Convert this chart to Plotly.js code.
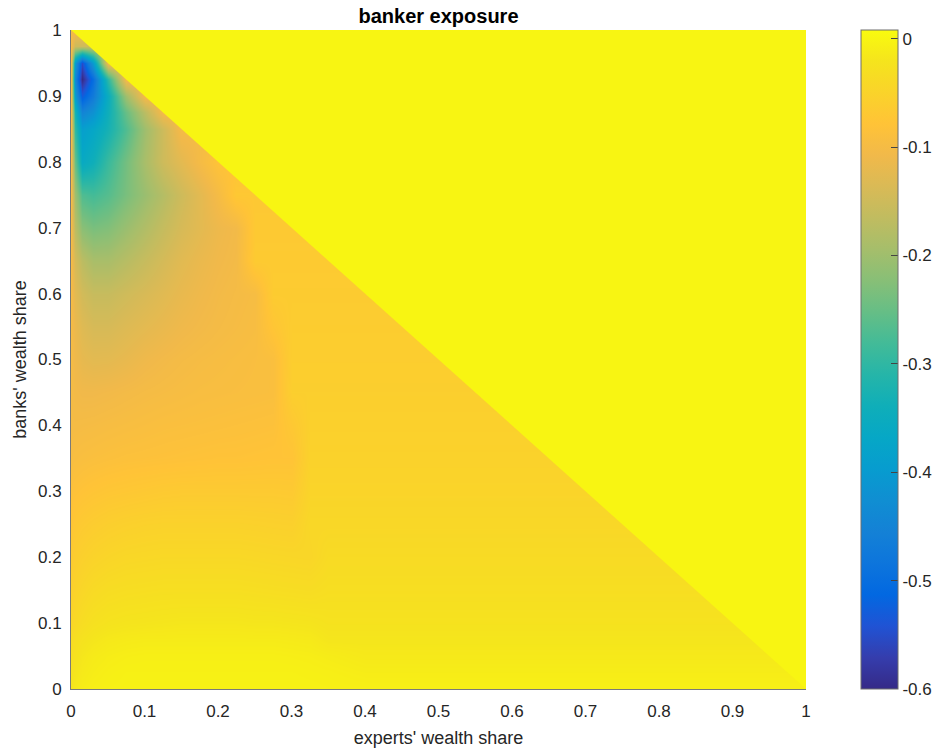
<!DOCTYPE html>
<html>
<head>
<meta charset="utf-8">
<script src="https://cdn.plot.ly/plotly-3.0.1.min.js"></script>
<style>
html,body{margin:0;padding:0;background:#ffffff;}
#chart{width:941px;height:752px;}
</style>
</head>
<body>
<div id="chart"></div>
<script>
// experts' wealth share (x) sample points
const expertShare = [0, 0.005, 0.015, 0.03, 0.05, 0.075, 0.1, 0.125, 0.15, 0.175, 0.2, 0.225, 0.25, 0.275, 0.3, 0.325, 0.35, 0.4, 0.5, 0.6, 0.7, 0.8, 0.9, 1];
// banks' wealth share (y) sample points
const bankShare = [0, 0.025, 0.05, 0.075, 0.1, 0.15, 0.2, 0.25, 0.3, 0.35, 0.4, 0.45, 0.5, 0.55, 0.6, 0.65, 0.7, 0.75, 0.8, 0.85, 0.875, 0.9, 0.925, 0.95, 0.975, 1];

// banker exposure, one row per banks' wealth share (0 = infeasible region, experts + banks > 1)
const exposure_y0000 = [-0.02, -0.015, -0.01, -0.007, -0.005, -0.004, -0.004, -0.004, -0.004, -0.004, -0.004, -0.004, -0.004, -0.004, -0.004, -0.004, -0.005, -0.006, -0.006, -0.006, -0.006, -0.006, -0.006, -0.006];
const exposure_y0025 = [-0.025, -0.02, -0.014, -0.01, -0.007, -0.005, -0.005, -0.005, -0.005, -0.005, -0.005, -0.005, -0.005, -0.005, -0.005, -0.006, -0.007, -0.01, -0.01, -0.01, -0.01, -0.01, -0.01, 0];
const exposure_y0050 = [-0.03, -0.025, -0.018, -0.013, -0.01, -0.008, -0.007, -0.007, -0.007, -0.007, -0.007, -0.007, -0.007, -0.007, -0.008, -0.009, -0.011, -0.015, -0.015, -0.015, -0.015, -0.015, -0.015, 0];
const exposure_y0075 = [-0.035, -0.03, -0.024, -0.019, -0.015, -0.013, -0.012, -0.012, -0.012, -0.012, -0.012, -0.012, -0.012, -0.012, -0.013, -0.014, -0.019, -0.019, -0.019, -0.019, -0.019, -0.019, -0.019, 0];
const exposure_y0100 = [-0.045, -0.04, -0.033, -0.027, -0.023, -0.021, -0.02, -0.019, -0.018, -0.018, -0.018, -0.018, -0.019, -0.019, -0.02, -0.021, -0.024, -0.024, -0.024, -0.024, -0.024, -0.024, -0.024, 0];
const exposure_y0150 = [-0.055, -0.05, -0.044, -0.038, -0.034, -0.032, -0.031, -0.03, -0.03, -0.03, -0.03, -0.03, -0.031, -0.032, -0.033, -0.034, -0.031, -0.031, -0.031, -0.031, -0.031, -0.031, 0, 0];
const exposure_y0200 = [-0.065, -0.06, -0.055, -0.05, -0.046, -0.043, -0.042, -0.041, -0.041, -0.041, -0.041, -0.041, -0.042, -0.043, -0.044, -0.045, -0.037, -0.037, -0.037, -0.037, -0.037, -0.037, 0, 0];
const exposure_y0250 = [-0.075, -0.07, -0.066, -0.062, -0.058, -0.055, -0.053, -0.052, -0.052, -0.052, -0.052, -0.052, -0.053, -0.054, -0.055, -0.043, -0.043, -0.043, -0.043, -0.043, -0.043, 0, 0, 0];
const exposure_y0300 = [-0.085, -0.082, -0.079, -0.076, -0.073, -0.071, -0.069, -0.067, -0.066, -0.066, -0.066, -0.066, -0.066, -0.066, -0.067, -0.048, -0.048, -0.048, -0.048, -0.048, -0.048, 0, 0, 0];
const exposure_y0350 = [-0.095, -0.093, -0.091, -0.089, -0.087, -0.085, -0.084, -0.083, -0.082, -0.081, -0.08, -0.08, -0.079, -0.078, -0.078, -0.052, -0.052, -0.052, -0.052, -0.052, 0, 0, 0, 0];
const exposure_y0400 = [-0.1, -0.1, -0.099, -0.098, -0.096, -0.094, -0.092, -0.09, -0.089, -0.088, -0.087, -0.086, -0.085, -0.084, -0.07, -0.055, -0.055, -0.055, -0.055, -0.055, 0, 0, 0, 0];
const exposure_y0450 = [-0.1, -0.105, -0.108, -0.108, -0.106, -0.103, -0.1, -0.098, -0.096, -0.094, -0.093, -0.092, -0.091, -0.09, -0.058, -0.058, -0.058, -0.058, -0.058, 0, 0, 0, 0, 0];
const exposure_y0500 = [-0.1, -0.11, -0.12, -0.125, -0.124, -0.118, -0.11, -0.105, -0.101, -0.098, -0.096, -0.094, -0.092, -0.09, -0.06, -0.06, -0.06, -0.06, -0.06, 0, 0, 0, 0, 0];
const exposure_y0550 = [-0.1, -0.115, -0.13, -0.14, -0.14, -0.132, -0.124, -0.117, -0.11, -0.105, -0.101, -0.098, -0.095, -0.075, -0.062, -0.062, -0.062, -0.062, 0, 0, 0, 0, 0, 0];
const exposure_y0600 = [-0.1, -0.125, -0.145, -0.158, -0.158, -0.148, -0.138, -0.128, -0.118, -0.11, -0.104, -0.1, -0.097, -0.064, -0.064, -0.064, -0.064, -0.064, 0, 0, 0, 0, 0, 0];
const exposure_y0650 = [-0.1, -0.14, -0.17, -0.19, -0.19, -0.175, -0.158, -0.142, -0.127, -0.116, -0.108, -0.103, -0.066, -0.066, -0.066, -0.066, -0.066, 0, 0, 0, 0, 0, 0, 0];
const exposure_y0700 = [-0.1, -0.17, -0.22, -0.235, -0.228, -0.205, -0.182, -0.16, -0.14, -0.125, -0.112, -0.105, -0.068, -0.068, -0.068, 0, 0, 0, 0, 0, 0, 0, 0, 0];
const exposure_y0750 = [-0.1, -0.2, -0.27, -0.28, -0.265, -0.235, -0.205, -0.178, -0.15, -0.125, -0.1, -0.07, -0.07, 0, 0, 0, 0, 0, 0, 0, 0, 0, 0, 0];
const exposure_y0800 = [-0.1, -0.25, -0.36, -0.34, -0.29, -0.24, -0.19, -0.15, -0.125, -0.1, -0.08, 0, 0, 0, 0, 0, 0, 0, 0, 0, 0, 0, 0, 0];
const exposure_y0850 = [-0.1, -0.3, -0.39, -0.37, -0.33, -0.27, -0.2, -0.15, -0.1, 0, 0, 0, 0, 0, 0, 0, 0, 0, 0, 0, 0, 0, 0, 0];
const exposure_y0875 = [-0.1, -0.33, -0.45, -0.42, -0.34, -0.25, -0.17, -0.1, 0, 0, 0, 0, 0, 0, 0, 0, 0, 0, 0, 0, 0, 0, 0, 0];
const exposure_y0900 = [-0.1, -0.4, -0.53, -0.47, -0.35, -0.2, -0.1, 0, 0, 0, 0, 0, 0, 0, 0, 0, 0, 0, 0, 0, 0, 0, 0, 0];
const exposure_y0925 = [-0.1, -0.44, -0.6, -0.5, -0.3, -0.1, 0, 0, 0, 0, 0, 0, 0, 0, 0, 0, 0, 0, 0, 0, 0, 0, 0, 0];
const exposure_y0950 = [-0.1, -0.4, -0.55, -0.4, -0.1, 0, 0, 0, 0, 0, 0, 0, 0, 0, 0, 0, 0, 0, 0, 0, 0, 0, 0, 0];
const exposure_y0975 = [-0.1, -0.15, -0.15, 0, 0, 0, 0, 0, 0, 0, 0, 0, 0, 0, 0, 0, 0, 0, 0, 0, 0, 0, 0, 0];
const exposure_y1000 = [-0.1, 0, 0, 0, 0, 0, 0, 0, 0, 0, 0, 0, 0, 0, 0, 0, 0, 0, 0, 0, 0, 0, 0, 0];

const exposureRows = [exposure_y0000, exposure_y0025, exposure_y0050, exposure_y0075, exposure_y0100,
  exposure_y0150, exposure_y0200, exposure_y0250, exposure_y0300, exposure_y0350, exposure_y0400,
  exposure_y0450, exposure_y0500, exposure_y0550, exposure_y0600, exposure_y0650, exposure_y0700,
  exposure_y0750, exposure_y0800, exposure_y0850, exposure_y0875, exposure_y0900, exposure_y0925,
  exposure_y0950, exposure_y0975, exposure_y1000];

const xTickVals = [0, 0.1, 0.2, 0.3, 0.4, 0.5, 0.6, 0.7, 0.8, 0.9, 1];
const yTickVals = [0, 0.1, 0.2, 0.3, 0.4, 0.5, 0.6, 0.7, 0.8, 0.9, 1];
const colorbarTicks = [0, -0.1, -0.2, -0.3, -0.4, -0.5, -0.6];
const colorMin = -0.6;
const colorMax = 0.008;

// MATLAB parula colormap
const parula = [
  [0.0000, 'rgb(53,42,135)'], [0.0476, 'rgb(53,61,173)'], [0.0952, 'rgb(32,83,212)'],
  [0.1429, 'rgb(2,104,225)'], [0.1905, 'rgb(13,117,220)'], [0.2381, 'rgb(20,129,214)'],
  [0.2857, 'rgb(16,142,210)'], [0.3333, 'rgb(7,156,207)'], [0.3810, 'rgb(6,167,198)'],
  [0.4286, 'rgb(15,174,185)'], [0.4762, 'rgb(37,181,169)'], [0.5238, 'rgb(66,187,152)'],
  [0.5714, 'rgb(101,190,134)'], [0.6190, 'rgb(135,191,119)'], [0.6667, 'rgb(165,190,107)'],
  [0.7143, 'rgb(192,188,96)'], [0.7619, 'rgb(217,186,86)'], [0.8095, 'rgb(241,185,74)'],
  [0.8571, 'rgb(255,195,55)'], [0.9048, 'rgb(250,211,42)'], [0.9524, 'rgb(245,228,29)'],
  [1.0000, 'rgb(249,251,14)']
];

function colorAt(v) {
  const f = Math.max(0, Math.min(1, (v - colorMin) / (colorMax - colorMin)));
  for (let i = 1; i < parula.length; i++) {
    if (f <= parula[i][0]) {
      const a = parula[i - 1], b = parula[i];
      const t = (f - a[0]) / (b[0] - a[0]);
      const ca = a[1].match(/\d+/g).map(Number), cb = b[1].match(/\d+/g).map(Number);
      const c = ca.map((x, k) => Math.round(x + (cb[k] - x) * t));
      return 'rgb(' + c.join(',') + ')';
    }
  }
  return parula[parula.length - 1][1];
}

// The smooth surface is drawn for the feasible region; inside the infeasible (zero) region
// each row is padded with its last feasible value so that the smoothing below the frontier
// is not pulled toward zero. The zero region itself is then drawn as a crisp area on top.
const zHeat = exposureRows.map(r => {
  let last = r[0];
  return r.map(v => (v === 0 ? last : (last = v)));
});
const lastX = expertShare.length - 1, lastY = bankShare.length - 1;
const zeroRegionX = [expertShare[0], expertShare[lastX], expertShare[lastX], expertShare[0]];
const zeroRegionY = [bankShare[lastY], bankShare[lastY], bankShare[0], bankShare[lastY]];
const zeroColor = colorAt(0);

const FONT = 'Liberation Sans, Arial, Helvetica, sans-serif';

const heat = {
  type: 'heatmap',
  x: expertShare,
  y: bankShare,
  z: zHeat,
  zsmooth: 'best',
  colorscale: parula,
  zmin: colorMin,
  zmax: colorMax,
  hoverinfo: 'skip',
  colorbar: {
    thickness: 37, thicknessmode: 'pixels',
    len: 1, lenmode: 'fraction',
    xref: 'container', x: 861 / 941, xanchor: 'left', xpad: 0,
    y: 0.5, yanchor: 'middle', ypad: 0,
    outlinewidth: 1, outlinecolor: '#6e6e6e',
    tickmode: 'array',
    tickvals: colorbarTicks,
    ticktext: colorbarTicks.map(v => String(v)),
    ticks: 'inside', ticklen: 7, tickcolor: '#444', tickwidth: 1,
    tickfont: {family: FONT, size: 17, color: '#262626'}
  }
};

const zeroArea = {
  type: 'scatter',
  mode: 'lines',
  x: zeroRegionX,
  y: zeroRegionY,
  fill: 'toself',
  fillcolor: zeroColor,
  line: {width: 0, color: zeroColor},
  hoverinfo: 'skip',
  showlegend: false
};

const tickFont = {family: FONT, size: 17, color: '#262626'};
const labelFont = {family: FONT, size: 18, color: '#262626'};

const layout = {
  width: 941, height: 752,
  margin: {l: 71, r: 135, t: 30, b: 63, pad: 0},
  paper_bgcolor: '#ffffff', plot_bgcolor: '#ffffff',
  showlegend: false,
  font: tickFont,
  title: {
    text: '<b>banker exposure</b>',
    x: 438.5 / 941, xanchor: 'center',
    y: 1 - 16 / 752, yanchor: 'middle',
    font: {family: FONT, size: 20, color: '#000000'}
  },
  xaxis: {
    range: [0, 1], autorange: false,
    tickmode: 'array', tickvals: xTickVals, ticktext: xTickVals.map(v => String(v)),
    ticks: 'outside', ticklen: 7, tickcolor: 'rgba(0,0,0,0)',
    showline: true, linecolor: '#7a7a7a', linewidth: 1, mirror: false,
    showgrid: false, zeroline: false,
    tickfont: tickFont,
    title: {text: "experts' wealth share", font: labelFont, standoff: 10}
  },
  yaxis: {
    range: [0, 1], autorange: false,
    tickmode: 'array', tickvals: yTickVals, ticktext: yTickVals.map(v => String(v)),
    ticks: 'outside', ticklen: 5, tickcolor: 'rgba(0,0,0,0)',
    showline: true, linecolor: '#7a7a7a', linewidth: 1, mirror: false,
    showgrid: false, zeroline: false,
    tickfont: tickFont,
    title: {text: "banks' wealth share", font: labelFont, standoff: 6}
  }
};

Plotly.newPlot('chart', [heat, zeroArea], layout, {displayModeBar: false, staticPlot: true});
</script>
</body>
</html>
